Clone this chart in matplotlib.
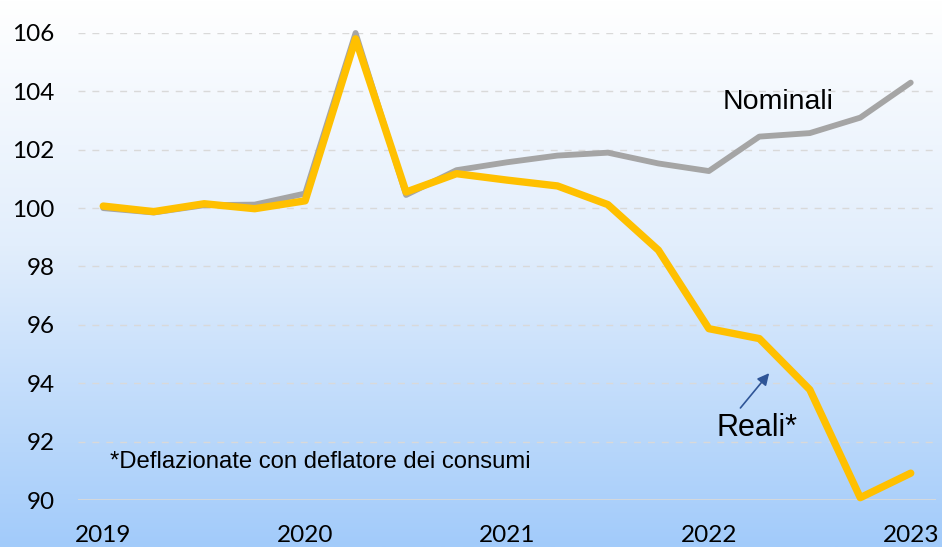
import numpy as np
from matplotlib import pyplot as plt
from matplotlib.colors import LinearSegmentedColormap

# quarterly index, 2019Q1 .. 2023Q1
quarters = np.arange(17)
nominali = [100.0, 99.85, 100.1, 100.12, 100.5, 106.0, 100.45, 101.3, 101.57,
            101.8, 101.9, 101.53, 101.27, 102.45, 102.57, 103.1, 104.3]
reali = [100.07, 99.88, 100.15, 99.98, 100.25, 105.8, 100.55, 101.18, 100.96,
         100.76, 100.12, 98.56, 95.87, 95.53, 93.78, 90.08, 90.92]
year_ticks = [0, 4, 8, 12, 16]
year_labels = ["2019", "2020", "2021", "2022", "2023"]
y_ticks = [90, 92, 94, 96, 98, 100, 102, 104, 106]

fig = plt.figure(figsize=(9.42, 5.47), dpi=100)

# background gradient white -> light blue
bg = fig.add_axes([0, 0, 1, 1], zorder=0)
cmap = LinearSegmentedColormap.from_list(
    "bg", [(0, "#FFFFFF"), (0.45, "#E2EEFC"), (1, "#A2CBFA")])
grad = np.linspace(0, 1, 256).reshape(-1, 1)
bg.imshow(grad, aspect="auto", cmap=cmap, extent=[0, 1, 0, 1], origin="upper")
bg.axis("off")

ax = fig.add_axes([0.0828, 0.0859, 0.9108, 0.8538], zorder=1)
ax.patch.set_alpha(0)

for v in y_ticks[1:]:
    ax.axhline(v, color="#D9D9D9", lw=1, ls=(0, (5, 5)), zorder=1)
ax.axhline(90, color="#D9D9D9", lw=1.3, zorder=1)

ax.plot(quarters, nominali, color="#A5A5A5", lw=4.2, zorder=3, clip_on=False,
        solid_capstyle="round")
ax.plot(quarters, reali, color="#FFC000", lw=5.3, zorder=4, clip_on=False,
        solid_capstyle="round")

ax.set_xlim(-0.5, 16.5)
ax.set_ylim(90, 106)
ax.set_xticks(year_ticks)
ax.set_xticklabels(year_labels, fontsize=17.5, family="Lato")
ax.set_yticks(y_ticks)
ax.set_yticklabels([str(v) for v in y_ticks], fontsize=17.5, family="Lato")
ax.tick_params(axis="x", length=0, pad=18)
ax.tick_params(axis="y", length=0, pad=17)
for s in ax.spines.values():
    s.set_visible(False)

ax.text(13.37, 103.63, "Nominali", fontsize=20.5, family="Liberation Sans",
        ha="center", va="center")
ax.text(12.95, 92.47, "Reali*", fontsize=22, family="Liberation Sans",
        ha="center", va="center")
ax.annotate("", xy=(13.23, 94.42), xytext=(12.59, 93.08),
            arrowprops=dict(arrowstyle="-|>,head_length=0.7,head_width=0.35",
                            color="#2F5597", lw=1.2))
ax.text(0.14, 91.3, "*Deflazionate con deflatore dei consumi", fontsize=17.2,
        family="Liberation Sans", ha="left", va="center")

plt.savefig("out.png", dpi=100)
